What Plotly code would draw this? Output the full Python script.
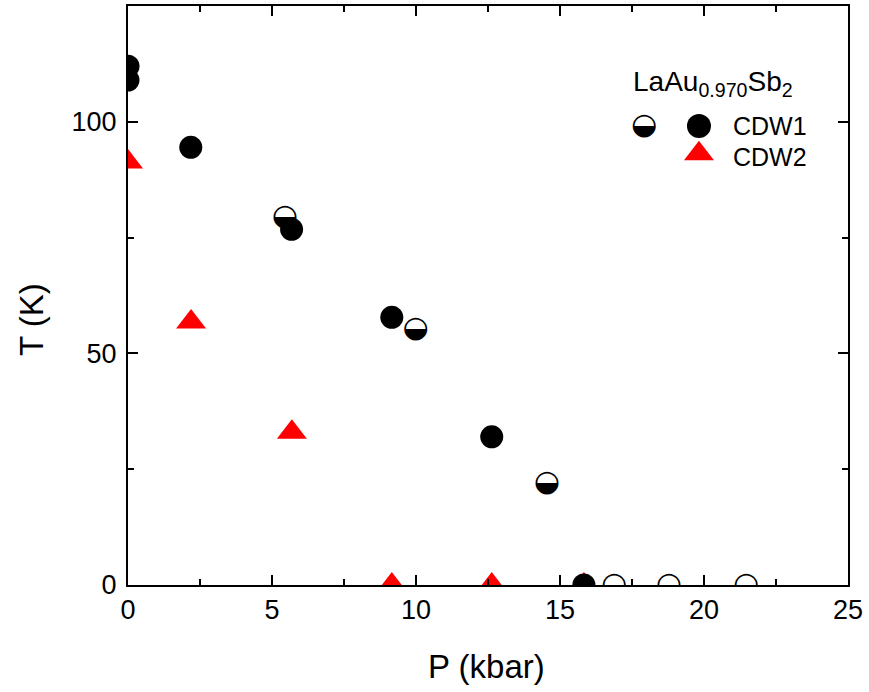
import plotly.graph_objects as go

# CDW1 - solid circles
cdw1_p = [0.0, 0.0, 2.18, 5.68, 9.16, 12.63, 15.83]
cdw1_t = [112.0, 109.0, 94.5, 76.8, 57.8, 32.0, 0.0]
# CDW1 - half-filled circles
cdw1h_p = [5.45, 9.99, 14.54, 16.88, 18.78, 21.46]
cdw1h_t = [79.4, 55.1, 21.9, 0.0, 0.0, 0.0]
# CDW2 - triangles
cdw2_p = [0.0, 2.19, 5.69, 9.16, 12.63, 15.83]
cdw2_t = [91.3, 56.8, 33.0, 0.0, 0.0, 0.0]

x_ticks = [0, 5, 10, 15, 20, 25]
y_ticks = [0, 50, 100]

FONT = "Liberation Sans, Arial, sans-serif"
HALF = "\u25D2"
TRI_SIZE = 26
CIR_SIZE = 23
HALF_SIZE = 30

fig = go.Figure()
fig.add_trace(go.Scatter(x=cdw2_p, y=cdw2_t, mode="markers",
                         marker=dict(symbol="triangle-up", size=TRI_SIZE, color="#ff0000", line=dict(width=0)),
                         showlegend=False, cliponaxis=True))
fig.add_trace(go.Scatter(x=cdw1_p, y=cdw1_t, mode="markers",
                         marker=dict(symbol="circle", size=CIR_SIZE, color="black", line=dict(width=0)),
                         showlegend=False, cliponaxis=True))
fig.add_trace(go.Scatter(x=cdw1h_p, y=cdw1h_t, mode="text", text=[HALF] * len(cdw1h_p),
                         textposition="middle center",
                         textfont=dict(family="DejaVu Sans", size=HALF_SIZE, color="black"),
                         showlegend=False, cliponaxis=True))

# legend keys (overlay axis in fractional coordinates)
fig.add_trace(go.Scatter(x=[0.7167], y=[0.7927], mode="text", text=[HALF], textposition="middle center",
                         textfont=dict(family="DejaVu Sans", size=HALF_SIZE, color="black"),
                         xaxis="x2", yaxis="y2", showlegend=False))
fig.add_trace(go.Scatter(x=[0.793], y=[0.7927], mode="markers",
                         marker=dict(symbol="circle", size=CIR_SIZE + 1, color="black"),
                         xaxis="x2", yaxis="y2", showlegend=False))
fig.add_trace(go.Scatter(x=[0.793], y=[0.745], mode="markers",
                         marker=dict(symbol="triangle-up", size=TRI_SIZE, color="#ff0000"),
                         xaxis="x2", yaxis="y2", showlegend=False))

fig.add_annotation(x=0.838, y=0.7927, xref="x2", yref="y2", text="CDW1", showarrow=False,
                   xanchor="left", yanchor="middle", font=dict(family=FONT, size=25, color="black"))
fig.add_annotation(x=0.838, y=0.739, xref="x2", yref="y2", text="CDW2", showarrow=False,
                   xanchor="left", yanchor="middle", font=dict(family=FONT, size=25, color="black"))
fig.add_annotation(x=0.699, y=0.866, xref="x2", yref="y2", text="LaAu<sub>0.970</sub>Sb<sub>2</sub>",
                   showarrow=False, xanchor="left", yanchor="middle",
                   font=dict(family=FONT, size=28, color="black"))

# axis titles
fig.add_annotation(x=0.4986, y=-0.14, xref="paper", yref="paper", text="P (kbar)", showarrow=False,
                   xanchor="center", yanchor="middle", font=dict(family=FONT, size=33, color="black"))
fig.add_annotation(x=-0.1333, y=0.4577, xref="paper", yref="paper", text="T (K)", showarrow=False,
                   textangle=-90, xanchor="center", yanchor="middle",
                   font=dict(family=FONT, size=33, color="black"))

axis_common = dict(showgrid=False, zeroline=False, showline=True, linecolor="black", linewidth=2,
                   mirror="ticks", ticks="inside", ticklen=10, tickwidth=2, tickcolor="black",
                   tickfont=dict(family=FONT, size=27, color="black"))

fig.update_layout(
    width=869, height=692,
    margin=dict(l=128, r=21, t=6, b=107, autoexpand=False),
    paper_bgcolor="white", plot_bgcolor="white",
    xaxis=dict(range=[0, 25], tickvals=x_ticks, ticktext=[str(v) for v in x_ticks],
               minor=dict(tickvals=[2.5, 7.5, 12.5, 17.5, 22.5], ticklen=6, tickwidth=2, tickcolor="black", ticks="inside"),
               **axis_common),
    yaxis=dict(range=[0, 125], tickvals=y_ticks, ticktext=[str(v) for v in y_ticks],
               minor=dict(tickvals=[25, 75, 125], ticklen=6, tickwidth=2, tickcolor="black", ticks="inside"),
               ticklabelstandoff=4,
               **axis_common),
    xaxis2=dict(range=[0, 1], overlaying="x", visible=False, fixedrange=True),
    yaxis2=dict(range=[0, 1], overlaying="y", visible=False, fixedrange=True),
)

fig.write_html("out.html", config={"displayModeBar": False},
               post_script="document.body.style.margin='0px';")
